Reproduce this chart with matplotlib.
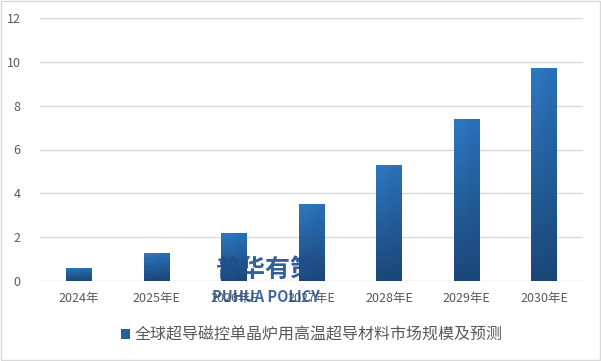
import numpy as np
import matplotlib.pyplot as plt
from matplotlib.patches import Rectangle
from matplotlib.colors import LinearSegmentedColormap

plt.rcParams['font.family'] = ['Noto Sans CJK SC', 'DejaVu Sans']

# ---- data ----
years = ['2024年', '2025年E', '2026年E', '2027年E', '2028年E', '2029年E', '2030年E']
market_size = [0.6, 1.3, 2.2, 3.5, 5.3, 7.4, 9.7]
series_name = '全球超导磁控单晶炉用高温超导材料市场规模及预测'

fig = plt.figure(figsize=(6.01, 3.61), dpi=100)
ax = fig.add_axes([40 / 601, 1 - 281 / 361, 543 / 601, 263 / 361])

x = np.arange(len(years))
bars = ax.bar(x, market_size, width=0.33, color='#2566a8', zorder=3)

# vertical gradient: lighter top, darker bottom
grad = np.linspace(0, 1, 256).reshape(-1, 1)
grad = np.hstack([grad, grad * 0.85])
cmap = LinearSegmentedColormap.from_list('g', ['#1b4677', '#2d78c2'])
for b in bars:
    bx, by = b.get_x(), b.get_y()
    w, h = b.get_width(), b.get_height()
    im = ax.imshow(grad, cmap=cmap, aspect='auto', origin='lower',
                   extent=[bx, bx + w, by, by + h], zorder=4)
    im.set_clip_path(b)
    b.set_facecolor('none')
    b.set_edgecolor('none')

ax.set_xlim(-0.5, len(years) - 0.5)
ax.set_ylim(0, 12)
ax.set_yticks(range(0, 13, 2))
ax.set_xticks(x)
ax.set_xticklabels(years)
ax.grid(axis='y', color='#d9d9d9', linewidth=1, zorder=0)
for s in ax.spines.values():
    s.set_visible(False)
ax.tick_params(length=0, colors='#595959', labelsize=9)
ax.tick_params(axis='x', pad=8)
ax.tick_params(axis='y', pad=14)

# legend
leg_handle = Rectangle((0, 0), 1, 1, facecolor='#245f9c')
fig.legend([leg_handle], [series_name], loc='center', bbox_to_anchor=(312 / 601, 1 - 335 / 361),
           frameon=False, fontsize=11.5, labelcolor='#595959', handlelength=0.55,
           handleheight=0.55, handletextpad=0.3)

# watermark
fig.text(266 / 601, 1 - 270 / 361, '普华有策', ha='center', va='center',
         fontsize=18, fontweight='heavy', color='#1f4e8c', alpha=0.9, zorder=10)
fig.text(266 / 601, 1 - 297 / 361, 'PUHUA POLICY', ha='center', va='center',
         fontsize=10.5, fontweight='bold', color='#1f4e8c', alpha=0.85, zorder=10)

# outer border
fig.patches.append(Rectangle((0.001, 0.002), 0.997, 0.995, transform=fig.transFigure,
                             fill=False, edgecolor='#d9d9d9', linewidth=1))

fig.savefig('out.png', dpi=100)
